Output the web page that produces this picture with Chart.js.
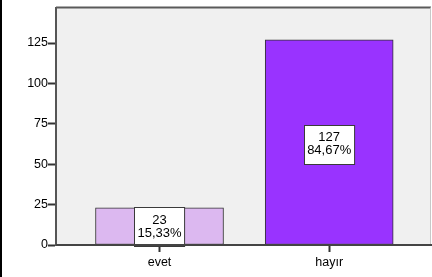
<!DOCTYPE html>
<html>
<head>
<meta charset="utf-8">
<script src="https://cdn.jsdelivr.net/npm/chart.js@4/dist/chart.umd.min.js"></script>
<style>
  html, body { margin: 0; padding: 0; background: #ffffff; }
  #wrap { width: 432px; height: 277px; position: relative; }
</style>
</head>
<body>
<div id="wrap"><canvas id="c" width="432" height="277"></canvas></div>
<script>
const categories = ['evet', 'hayır'];
const counts = [23, 127];
const percents = ['15,33%', '84,67%'];
const yTicks = [0, 25, 50, 75, 100, 125];
const barColors = ['#dcb8f0', '#9933ff'];

const FONT = '"Liberation Sans", Arial, sans-serif';

const framePlugin = {
  id: 'frame',
  beforeDraw(chart) {
    const { ctx, chartArea: a } = chart;
    ctx.save();
    ctx.fillStyle = '#f0f0f0';
    ctx.fillRect(a.left, a.top, a.right - a.left, a.bottom - a.top);
    ctx.restore();
  },
  afterDraw(chart) {
    const { ctx, chartArea: a } = chart;
    ctx.save();
    // top border
    ctx.strokeStyle = '#5a5a5a';
    ctx.lineWidth = 2;
    ctx.beginPath();
    ctx.moveTo(a.left, a.top);
    ctx.lineTo(a.right, a.top);
    ctx.stroke();
    // right border
    ctx.strokeStyle = '#c8c8c8';
    ctx.lineWidth = 1;
    ctx.beginPath();
    ctx.moveTo(a.right - 0.5, a.top);
    ctx.lineTo(a.right - 0.5, a.bottom);
    ctx.stroke();
    // left black frame line
    ctx.fillStyle = '#000000';
    ctx.fillRect(0, 0, 2, chart.height);

    // value label boxes
    const meta = chart.getDatasetMeta(0);
    ctx.font = '13px ' + FONT;
    ctx.textAlign = 'center';
    ctx.textBaseline = 'middle';
    meta.data.forEach((bar, i) => {
      const l1 = String(counts[i]);
      const l2 = percents[i];
      const w = Math.max(ctx.measureText(l1).width, ctx.measureText(l2).width) + 6;
      const h = 39;
      const cx = bar.x;
      let cy = (bar.y + bar.base) / 2 + 2;
      if (cy + h / 2 > bar.base + 1.5) cy = bar.base + 1.5 - h / 2;
      const x0 = Math.round(cx - w / 2) + 0.5;
      const y0 = Math.round(cy - h / 2) + 0.5;
      ctx.fillStyle = '#ffffff';
      ctx.fillRect(x0, y0, w, h);
      ctx.strokeStyle = '#3a3a3a';
      ctx.lineWidth = 1;
      ctx.strokeRect(x0, y0, w, h);
      ctx.fillStyle = '#000000';
      ctx.fillText(l1, cx, cy - 6.5);
      ctx.fillText(l2, cx, cy + 6.5);
    });
    // redraw bottom axis line above boxes
    ctx.strokeStyle = '#444444';
    ctx.lineWidth = 2;
    ctx.beginPath();
    ctx.moveTo(a.left, a.bottom);
    ctx.lineTo(a.right, a.bottom);
    ctx.stroke();
    ctx.restore();
  }
};

new Chart(document.getElementById('c'), {
  type: 'bar',
  data: {
    datasets: [{
      data: categories.map((c, i) => ({ x: i, y: counts[i] })),
      backgroundColor: barColors,
      borderColor: '#333333',
      borderWidth: 1,
      borderSkipped: false,
      barThickness: 128,
      grouped: false
    }]
  },
  options: {
    responsive: false,
    animation: false,
    devicePixelRatio: 1,
    layout: { padding: { top: 7, right: 1, left: 0, bottom: 0 } },
    plugins: { legend: { display: false }, tooltip: { enabled: false } },
    scales: {
      x: {
        type: 'linear',
        offset: false,
        min: -0.61,
        max: 1.6,
        afterBuildTicks(scale) { scale.ticks = categories.map((c, i) => ({ value: i })); },
        afterFit(scale) { scale.height = 32; },
        ticks: {
          callback: (v) => categories[v] ?? '',
          color: '#000000',
          font: { size: 12.5, family: FONT },
          padding: 3,
          autoSkip: false,
          maxRotation: 0
        },
        grid: {
          offset: false,
          drawOnChartArea: false,
          drawTicks: true,
          tickLength: 7,
          tickWidth: 2,
          tickColor: '#333333'
        },
        border: { display: true, color: '#444444', width: 2 }
      },
      y: {
        min: 0,
        max: 147,
        afterBuildTicks(scale) { scale.ticks = yTicks.map(v => ({ value: v })); },
        afterFit(scale) { scale.width = 56; },
        ticks: {
          color: '#000000',
          font: { size: 12.5, family: FONT },
          padding: 0
        },
        grid: {
          drawOnChartArea: false,
          drawTicks: true,
          tickLength: 8,
          tickWidth: 2,
          tickColor: '#333333'
        },
        border: { display: true, color: '#555555', width: 2 }
      }
    }
  },
  plugins: [framePlugin]
});
</script>
</body>
</html>
